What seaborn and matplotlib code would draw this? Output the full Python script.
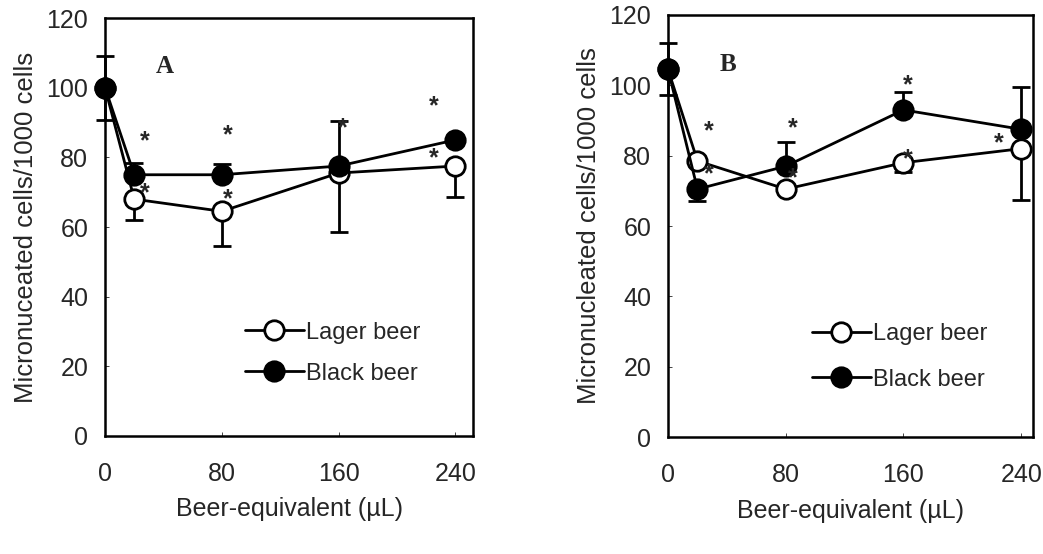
import matplotlib
matplotlib.use("Agg")
import matplotlib.pyplot as plt
import seaborn as sns
import numpy as np

# Beer-equivalent doses (uL)
doses = [0, 20, 80, 160, 240]

# Panel A
lager_a = [100, 68, 64.5, 75.5, 77.5]
lager_a_lo = [9.3, 6, 10, 17, 8.8]
lager_a_hi = [0, 0, 0, 0, 0]
black_a = [100, 75, 75, 77.5, 85]
black_a_lo = [0, 0, 0, 0, 0]
black_a_hi = [9, 3.5, 3, 13, 0]
stars_a_x = [27, 27, 84, 84, 163, 225, 225]
stars_a_y = [84.5, 69.8, 86.4, 68, 88.4, 94.7, 79.7]

# Panel B
lager_b = [104.5, 78.5, 70.5, 78, 82]
lager_b_lo = [7.3, 0, 0, 2.5, 14.5]
lager_b_hi = [0, 0, 0, 0, 0]
black_b = [104.5, 70.5, 77, 93, 87.5]
black_b_lo = [0, 3.5, 0, 0, 0]
black_b_hi = [7.4, 0, 7, 5, 12]
stars_b_x = [28, 28, 85, 85, 163, 163, 224.6]
stars_b_y = [86.8, 74.6, 87.7, 73.7, 100, 79.1, 83.6]

sns.set_style("ticks")
plt.rcParams["font.family"] = ["Liberation Sans", "DejaVu Sans"]

fig = plt.figure(figsize=(10.43, 5.54), dpi=100)
ax_a = fig.add_axes([0.1007, 0.213, 0.3528, 0.7545])
ax_b = fig.add_axes([0.6405, 0.211, 0.3499, 0.762])


def draw_panel(ax, lager, lag_lo, lag_hi, black, blk_lo, blk_hi, sx, sy,
               letter, ylabel, xmax, leg_x, leg_y, leg_sp):
    # error bars under the markers
    for vals, lo, hi in [(lager, lag_lo, lag_hi), (black, blk_lo, blk_hi)]:
        eb = ax.errorbar(doses, vals, yerr=[lo, hi], fmt="none", ecolor="black",
                         elinewidth=2, capsize=6.5, capthick=2, zorder=2)
        for art in eb.lines[1] + eb.lines[2]:
            art.set_clip_on(False)
    sns.lineplot(x=doses, y=lager, ax=ax, color="black", lw=2, marker="o", ms=14,
                 mfc="white", mec="black", mew=2, label="Lager beer",
                 errorbar=None, zorder=3, clip_on=False)
    sns.lineplot(x=doses, y=black, ax=ax, color="black", lw=2, marker="o", ms=14,
                 mfc="black", mec="black", mew=2, label="Black beer",
                 errorbar=None, zorder=4, clip_on=False)
    for x, y in zip(sx, sy):
        ax.text(x, y, "*", fontsize=18, fontweight="bold", ha="center",
                va="center", zorder=5)
    ax.text(41, 106, letter, fontsize=18, fontweight="bold",
            family="Liberation Serif", ha="center", va="center")

    ax.set_xlim(0, xmax)
    ax.set_ylim(0, 120)
    ax.set_xticks([0, 80, 160, 240])
    ax.set_yticks(np.arange(0, 121, 20))
    ax.tick_params(axis="both", direction="in", length=3, width=0.6,
                   labelsize=18)
    ax.tick_params(axis="x", pad=19)
    ax.tick_params(axis="y", pad=12)
    for sp in ax.spines.values():
        sp.set_visible(True)
        sp.set_linewidth(1.8)
        sp.set_color("black")
    ax.set_xlabel("Beer-equivalent (\u00b5L)", fontsize=18, labelpad=8)
    ax.set_ylabel(ylabel, fontsize=18.5, labelpad=6)
    ax.legend(loc="lower left", bbox_to_anchor=(leg_x, leg_y), frameon=False,
              fontsize=17, handlelength=2.5, handletextpad=0.1,
              labelspacing=leg_sp)


draw_panel(ax_a, lager_a, lager_a_lo, lager_a_hi, black_a, black_a_lo, black_a_hi,
           stars_a_x, stars_a_y, "A", "Micronuceated cells/1000 cells", 252,
           0.322, 0.072, 0.8)
draw_panel(ax_b, lager_b, lager_b_lo, lager_b_hi, black_b, black_b_lo, black_b_hi,
           stars_b_x, stars_b_y, "B", "Micronucleated cells/1000 cells", 248,
           0.335, 0.06, 1.0)

fig.savefig("out.png", dpi=100, facecolor="white")
